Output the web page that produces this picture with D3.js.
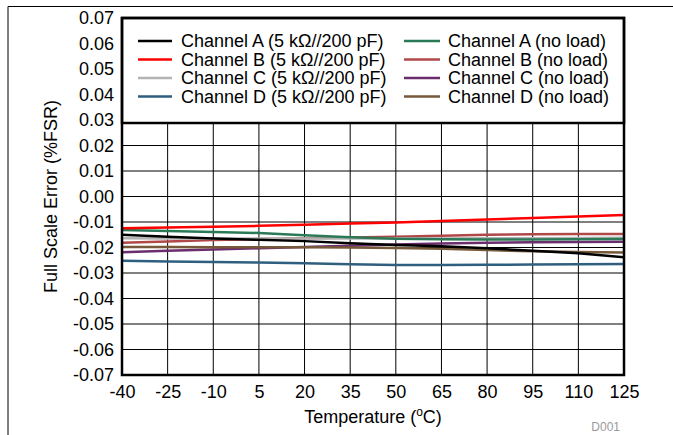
<!DOCTYPE html>
<html><head><meta charset="utf-8">
<script src="https://cdn.jsdelivr.net/npm/d3@7"></script>
<style>
html,body{margin:0;padding:0;background:#fff;}
text{font-family:"Liberation Sans",Arial,sans-serif;}
</style></head>
<body><svg id="c" width="673" height="435"></svg>
<script>
const temps = [-40,-25,-10,5,20,35,50,65,80,95,110,125];
const xTicks = [-40,-25,-10,5,20,35,50,65,80,95,110,125];
const yTicks = [0.07,0.06,0.05,0.04,0.03,0.02,0.01,0.00,-0.01,-0.02,-0.03,-0.04,-0.05,-0.06,-0.07];

const seriesNames = [
  "Channel A (5 k\u03A9//200 pF)","Channel B (5 k\u03A9//200 pF)","Channel C (5 k\u03A9//200 pF)","Channel D (5 k\u03A9//200 pF)",
  "Channel A (no load)","Channel B (no load)","Channel C (no load)","Channel D (no load)"
];
const seriesColors = ["#000000","#ff0000","#b3b3b3","#2f5f7f","#2b7a57","#b04848","#6b2d6e","#76593a"];

const chALoad = [-0.0150,-0.0158,-0.0165,-0.0170,-0.0175,-0.0183,-0.0190,-0.0195,-0.0203,-0.0213,-0.0223,-0.0238];
const chBLoad = [-0.0125,-0.0122,-0.0119,-0.0115,-0.0111,-0.0106,-0.0102,-0.0096,-0.0090,-0.0084,-0.0078,-0.0073];
const chCLoad = [-0.0164,-0.0165,-0.0165,-0.0165,-0.0165,-0.0165,-0.0165,-0.0165,-0.0164,-0.0164,-0.0163,-0.0162];
const chDLoad = [-0.0252,-0.0255,-0.0257,-0.0259,-0.0262,-0.0266,-0.0269,-0.0269,-0.0268,-0.0267,-0.0266,-0.0265];
const chANoLoad = [-0.0131,-0.0135,-0.0139,-0.0143,-0.0152,-0.0160,-0.0166,-0.0168,-0.0169,-0.0169,-0.0168,-0.0167];
const chBNoLoad = [-0.0181,-0.0176,-0.0171,-0.0167,-0.0164,-0.0161,-0.0158,-0.0154,-0.0150,-0.0148,-0.0147,-0.0147];
const chCNoLoad = [-0.0219,-0.0213,-0.0208,-0.0203,-0.0198,-0.0193,-0.0188,-0.0184,-0.0181,-0.0179,-0.0178,-0.0177];
const chDNoLoad = [-0.0198,-0.0198,-0.0199,-0.0199,-0.0199,-0.0200,-0.0202,-0.0205,-0.0210,-0.0215,-0.0218,-0.0220];

const allSeries = [chALoad,chBLoad,chCLoad,chDLoad,chANoLoad,chBNoLoad,chCNoLoad,chDNoLoad];
const drawOrder = [3,6,7,5,2,4,0,1];

const svg = d3.select("#c");
const L=122, R=624, T=18, B=375;
const FONT = "Liberation Sans, Arial, sans-serif";
const x = d3.scaleLinear().domain([-40,125]).range([L,R]);
const y = d3.scaleLinear().domain([-0.07,0.07]).range([B,T]);

// outer frame
svg.append("line").attr("x1",8).attr("x2",673).attr("y1",6.5).attr("y2",6.5).attr("stroke","#000").attr("stroke-width",1);
svg.append("line").attr("x1",8).attr("x2",8).attr("y1",6.5).attr("y2",435).attr("stroke","#000").attr("stroke-width",1);

// grid
const g = svg.append("g");
g.selectAll(".vg").data(xTicks).enter().append("line")
  .attr("x1",d=>x(d)).attr("x2",d=>x(d)).attr("y1",T).attr("y2",B).attr("stroke","#000").attr("stroke-width",1);
g.selectAll(".hg").data(yTicks).enter().append("line")
  .attr("x1",L).attr("x2",R).attr("y1",d=>y(d)).attr("y2",d=>y(d)).attr("stroke","#000").attr("stroke-width",1);

// axes
const xAxis = d3.axisBottom(x).tickValues(xTicks).tickSize(0).tickPadding(10).tickFormat(d=>String(d));
const xa = svg.append("g").attr("transform",`translate(0,${B})`).call(xAxis);
xa.select(".domain").remove();
xa.selectAll("text").attr("font-size","18px").attr("fill","#000").attr("font-family",FONT);

const yAxis = d3.axisLeft(y).tickValues(yTicks).tickSize(0).tickPadding(8).tickFormat(d=>(d<0?"-":"")+Math.abs(d).toFixed(2));
const ya = svg.append("g").attr("transform",`translate(${L},0)`).call(yAxis);
ya.select(".domain").remove();
ya.selectAll("text").attr("font-size","18px").attr("fill","#000").attr("font-family",FONT);

// lines
const line = d3.line().x((d,i)=>x(temps[i])).y(d=>y(d));
svg.append("clipPath").attr("id","pc").append("rect").attr("x",L).attr("y",T).attr("width",R-L).attr("height",B-T);
svg.append("g").attr("clip-path","url(#pc)").selectAll("path").data(drawOrder).enter().append("path")
  .attr("d",i=>line(allSeries[i])).attr("fill","none").attr("stroke",i=>seriesColors[i]).attr("stroke-width",2.5);

// legend box
const LB = 123;
svg.append("rect").attr("x",L).attr("y",T).attr("width",R-L).attr("height",LB-T).attr("fill","#fff").attr("stroke","#000").attr("stroke-width",2.5);
const rowsY = [41,59.5,78,96.5];
const colX = [{lx1:138,lx2:172,tx:181},{lx1:404,lx2:440,tx:448}];
seriesNames.forEach((name,i)=>{
  const col = colX[Math.floor(i/4)], ry = rowsY[i%4];
  svg.append("line").attr("x1",col.lx1).attr("x2",col.lx2).attr("y1",ry).attr("y2",ry).attr("stroke",seriesColors[i]).attr("stroke-width",2.5);
  svg.append("text").attr("x",col.tx).attr("y",ry).attr("dy","0.35em").attr("font-size","18px").attr("fill","#000").text(name);
});

// plot frame
svg.append("rect").attr("x",L).attr("y",T).attr("width",R-L).attr("height",B-T).attr("fill","none").attr("stroke","#000").attr("stroke-width",2.5);

// axis titles
const xt = svg.append("text").attr("x",(L+R)/2).attr("y",423).attr("text-anchor","middle").attr("font-size","18px").attr("fill","#000");
xt.append("tspan").text("Temperature (");
xt.append("tspan").attr("font-size","12px").attr("dy","-7").text("o");
xt.append("tspan").attr("dy","7").text("C)");

svg.append("text").attr("transform",`translate(57,${(T+B)/2}) rotate(-90)`).attr("text-anchor","middle").attr("font-size","18px").attr("fill","#000").text("Full Scale Error (%FSR)");

svg.append("text").attr("x",620).attr("y",431).attr("text-anchor","end").attr("font-size","12px").attr("fill","#999").text("D001");
</script></body></html>
